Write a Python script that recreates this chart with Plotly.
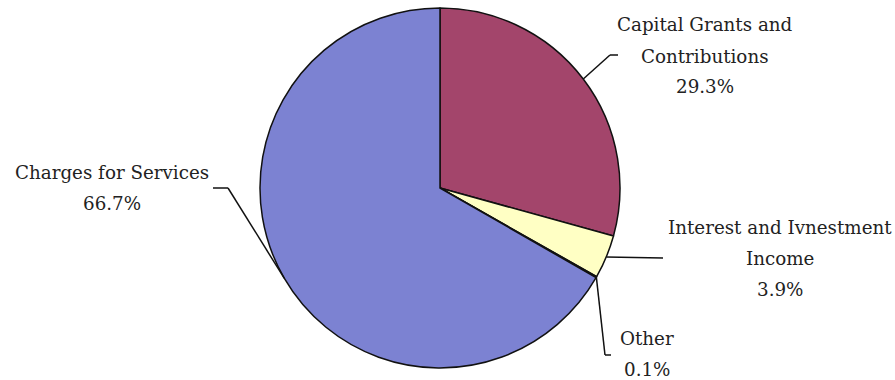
import math
import plotly.graph_objects as go

# Data
categories = ["Capital Grants and Contributions", "Interest and Ivnestment Income", "Other", "Charges for Services"]
label_lines = [["Capital Grants and", "Contributions"], ["Interest and Ivnestment", "Income"], ["Other"], ["Charges for Services"]]
values = [29.3, 3.9, 0.1, 66.7]
colors = ["#A3456B", "#FFFFC4", "#D8D8F0", "#7C82D2"]

W, H = 895, 380
CX, CY, R = 440, 188, 180
FONT = "DejaVu Serif"

def px(x):
    return x / W

def py(y):
    return 1 - y / H

fig = go.Figure()
fig.add_trace(go.Pie(
    labels=categories, values=values, sort=False, direction="clockwise", rotation=0,
    marker=dict(colors=colors, line=dict(color="#111111", width=1.5)),
    textinfo="none", hoverinfo="label+percent", showlegend=False,
    domain=dict(x=[px(CX - R), px(CX + R)], y=[py(CY + R), py(CY - R)]),
))

# Leader line layout (elbow and label placement per slice)
elbows = [[(610, 55), (618, 55)], [(663, 258)], [(605, 355), (611, 355)], [(228, 188), (213, 188)]]
label_pos = [(705, 25, "center"), (780, 227, "center"), (647, 338, "center"), (112, 172, "center")]
LINE_GAP = 31

shapes = []
annotations = []
total = sum(values)
cum = 0
for i, v in enumerate(values):
    mid = (cum + v / 2) / total * 2 * math.pi
    cum += v
    sx = CX + R * math.sin(mid)
    sy = CY - R * math.cos(mid)
    pts = [(sx, sy)] + elbows[i]
    for (x0, y0), (x1, y1) in zip(pts[:-1], pts[1:]):
        shapes.append(dict(type="line", xref="paper", yref="paper",
                           x0=px(x0), y0=py(y0), x1=px(x1), y1=py(y1),
                           line=dict(color="#111111", width=1.5)))
    lx, ly, al = label_pos[i]
    lines = label_lines[i] + [f"{v:.1f}%"]
    for k, t in enumerate(lines):
        annotations.append(dict(text=t, x=px(lx), y=py(ly + k * LINE_GAP), xref="paper", yref="paper",
                                showarrow=False, xanchor=al, yanchor="middle",
                                font=dict(family=FONT, size=18.3, color="#222222")))

fig.update_layout(
    width=W, height=H, margin=dict(l=0, r=0, t=0, b=0),
    paper_bgcolor="white", plot_bgcolor="white",
    font=dict(family=FONT),
    shapes=shapes, annotations=annotations,
)
fig.write_html("out.html")
